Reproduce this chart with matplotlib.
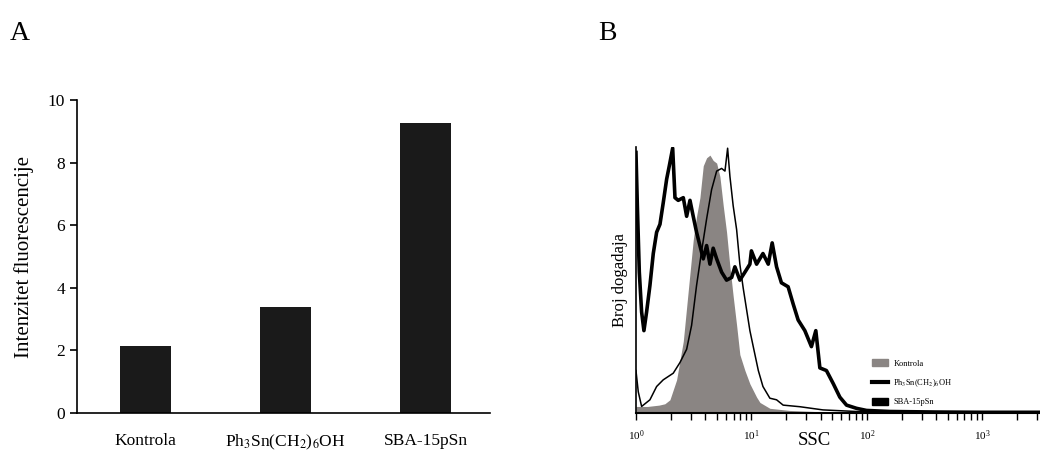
import numpy as np
import matplotlib
matplotlib.use("Agg")
import matplotlib.pyplot as plt
from matplotlib.patches import Patch
from matplotlib.lines import Line2D

plt.rcParams["font.family"] = ["Liberation Serif", "DejaVu Serif"]
plt.rcParams["mathtext.fontset"] = "stix"

# panel A data
categories = ["Kontrola", "Ph$_3$Sn(CH$_2$)$_6$OH", "SBA-15pSn"]
intensity = [2.15, 3.4, 9.25]

# panel B data (x in log10 SSC, y in % of max)
kontrola_x = [0.0, 0.1, 0.2, 0.25, 0.294, 0.352, 0.41, 0.453, 0.496, 0.525, 0.554, 0.583,
              0.612, 0.641, 0.669, 0.699, 0.727, 0.756, 0.785, 0.814, 0.842, 0.872, 0.9,
              0.944, 0.987, 1.045, 1.074, 1.16, 1.33, 1.6, 2.0, 3.5]
kontrola_y = [2.5, 2.5, 3, 3.5, 5, 12.5, 27, 46, 65, 74, 81, 93,
              96, 97, 95, 94, 89, 78, 68, 55, 44, 33, 22,
              16, 11, 6, 4, 1.8, 1, 0.5, 0.3, 0.1]

ph3_x = [0.0, 0.02, 0.049, 0.121, 0.179, 0.236, 0.323, 0.381, 0.439, 0.482, 0.525, 0.569,
         0.612, 0.655, 0.699, 0.742, 0.771, 0.794, 0.814, 0.842, 0.872, 0.9, 0.929, 0.958,
         0.987, 1.016, 1.06, 1.1, 1.16, 1.218, 1.275, 1.42, 1.62, 1.91, 2.3, 3.5]
ph3_y = [16, 8, 2.5, 5, 10, 12.5, 15, 19, 24, 33, 48, 61,
         73, 84, 91, 92, 91, 99.6, 89, 78, 69, 56, 47, 39,
         31, 25, 16, 10, 5.6, 5, 3, 2.4, 1.2, 0.6, 0.4, 0.2]

sba_x = [0.0, 0.012, 0.029, 0.049, 0.069, 0.092, 0.121, 0.15, 0.179, 0.208, 0.236, 0.266,
         0.289, 0.318, 0.338, 0.366, 0.41, 0.439, 0.468, 0.496, 0.525, 0.554, 0.583, 0.612,
         0.641, 0.669, 0.699, 0.742, 0.785, 0.829, 0.857, 0.9, 0.944, 0.987, 1.0, 1.045,
         1.1, 1.146, 1.18, 1.218, 1.26, 1.318, 1.362, 1.405, 1.463, 1.52, 1.558, 1.593,
         1.65, 1.71, 1.766, 1.824, 1.91, 1.997, 2.2, 2.6, 3.0, 3.5]
sba_y = [98, 78, 53, 38, 31, 38, 48, 60, 68, 71, 79, 88,
         93, 99.6, 81, 80, 81, 74, 80, 74, 68, 63, 58, 63,
         56, 62, 58, 53, 50, 51, 55, 50, 53, 56, 61, 56,
         60, 56, 64, 55, 49, 47.5, 41, 35, 31, 25, 31, 17,
         16, 11, 6, 3, 1.8, 1, 0.6, 0.4, 0.3, 0.3]

fig = plt.figure(figsize=(10.4, 4.5), dpi=100)

## panel A
axA = fig.add_axes([0.074, 0.082, 0.397, 0.696])
pos = np.arange(len(categories))
axA.bar(pos, intensity, width=0.37, color="#1a1a1a")
axA.set_xlim(-0.49, 2.46)
axA.set_ylim(0, 10)
axA.set_yticks([0, 2, 4, 6, 8, 10])
axA.set_xticks(pos)
axA.set_xticklabels(categories, fontsize=12.5)
axA.tick_params(axis="x", length=0, pad=14)
axA.tick_params(axis="y", labelsize=12.5, length=5, width=1.2, direction="out")
axA.set_ylabel("Intenzitet fluorescencije", fontsize=15, labelpad=10)
for s in ["top", "right"]:
    axA.spines[s].set_visible(False)
for s in ["left", "bottom"]:
    axA.spines[s].set_linewidth(1.2)

## panel B
axB = fig.add_axes([0.6115, 0.082, 0.3885, 0.591])
kx = 10 ** np.array(kontrola_x)
px = 10 ** np.array(ph3_x)
sx = 10 ** np.array(sba_x)
axB.fill_between(kx, kontrola_y, color="#8a8583", lw=0, zorder=1)
axB.plot(px, ph3_y, color="black", lw=1.1, zorder=2)
axB.plot(sx, sba_y, color="black", lw=2.6, zorder=3)
axB.set_xscale("log")
axB.set_xlim(1, 10 ** 3.5)
axB.set_ylim(0, 100)
axB.set_yticks([])
axB.tick_params(axis="x", which="both", direction="out", length=5, width=1.0, labelsize=8, pad=6)
axB.set_ylabel("Broj dogadaja", fontsize=12, labelpad=6)
for s in ["top", "right"]:
    axB.spines[s].set_visible(False)
axB.spines["bottom"].set_linewidth(1.5)
axB.spines["left"].set_linewidth(1.2)

handles = [Patch(color="#8a8583"),
           Line2D([0], [0], color="black", lw=3),
           Patch(color="black")]
labels = ["Kontrola", "Ph$_3$Sn(CH$_2$)$_6$OH", "SBA-15pSn"]
axB.legend(handles, labels, loc="upper left", bbox_to_anchor=(0.565, 0.23),
           frameon=False, fontsize=6, labelspacing=1.1, handlelength=2.0,
           handleheight=0.9, handletextpad=0.6)

fig.text(814 / 1040, 1 / 450, "SSC", fontsize=13.5, ha="center", va="bottom")
fig.text(10 / 1040, (450 - 40) / 450, "A", fontsize=20)
fig.text(598 / 1040, (450 - 40) / 450, "B", fontsize=20)

plt.savefig("out.png", dpi=100)
